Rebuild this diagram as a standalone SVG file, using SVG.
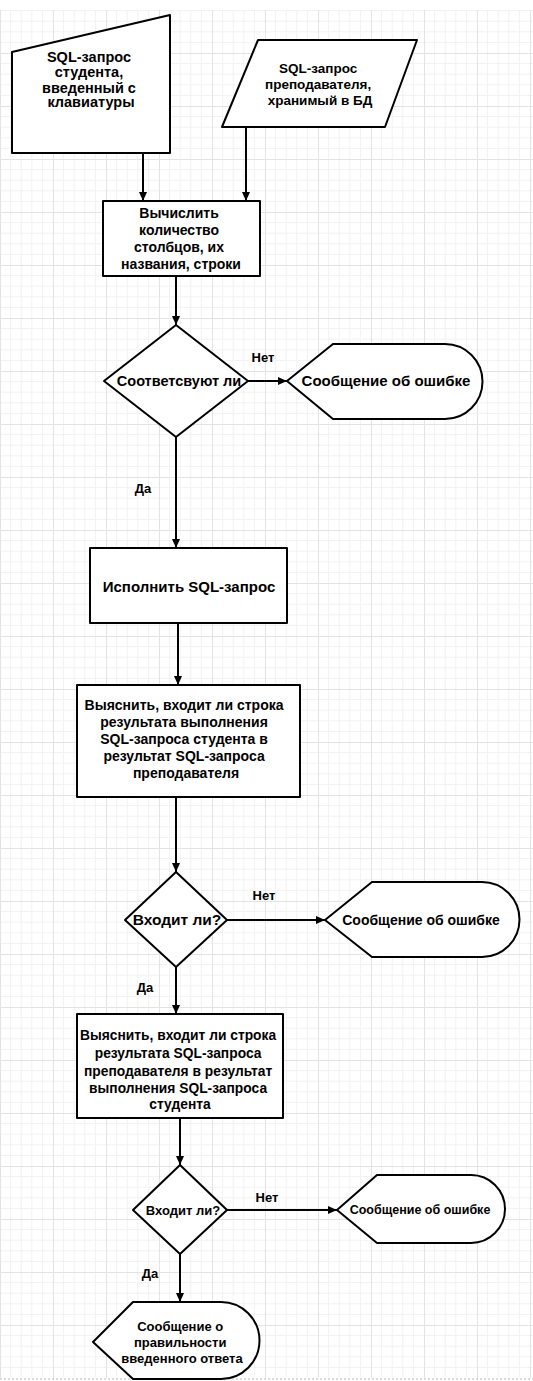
<svg xmlns="http://www.w3.org/2000/svg" width="533" height="1381" viewBox="0 0 533 1381">
  <defs>
    <style>
      .shape { fill: #ffffff; stroke: #000000; stroke-width: 2; stroke-linejoin: round; }
      .edge { fill: none; stroke: #000000; stroke-width: 2; marker-end: url(#arrow); }
      .t { font-family: "Liberation Sans", Arial, sans-serif; font-weight: bold; fill: #000000; text-anchor: middle; }
      .lbl { font-family: "Liberation Sans", Arial, sans-serif; font-weight: bold; fill: #000000; text-anchor: middle; font-size: 13px; }
    </style>
    <marker id="arrow" markerUnits="userSpaceOnUse" markerWidth="9" markerHeight="8" refX="9" refY="4" orient="auto">
      <path d="M0,0 L9,4 L0,8 Z" fill="#000000"/>
    </marker>
    <!-- background drawing grid: minor cells with a heavier line every 5 cells -->
    <pattern id="grid" width="53" height="53" patternUnits="userSpaceOnUse">
      <path d="M10.6,0 V53 M21.2,0 V53 M31.8,0 V53 M42.4,0 V53 M0,10.6 H53 M0,21.2 H53 M0,31.8 H53 M0,42.4 H53" stroke="#f2f2f2" stroke-width="1" fill="none"/>
      <path d="M0.5,0 V53 M0,0.5 H53" stroke="#e3e3e3" stroke-width="1" fill="none"/>
    </pattern>
  </defs>

  <rect width="533" height="1381" fill="#ffffff"/>
  <rect x="0" y="10" width="533" height="1368" fill="url(#grid)"/>
  <line x1="0" y1="1379" x2="533" y2="1379" stroke="#cfcfcf" stroke-width="1.5" stroke-dasharray="2 2"/>

  <!-- connectors -->
  <g id="connectors">
    <line class="edge" x1="143" y1="153" x2="143" y2="201"/>
    <line class="edge" x1="246" y1="127" x2="246" y2="201"/>
    <line class="edge" x1="176" y1="276" x2="176" y2="325"/>
    <line class="edge" x1="248" y1="381" x2="287" y2="381"/>
    <line class="edge" x1="176" y1="437" x2="176" y2="548"/>
    <line class="edge" x1="178" y1="623" x2="178" y2="685"/>
    <line class="edge" x1="176" y1="797" x2="176" y2="872"/>
    <line class="edge" x1="227" y1="920" x2="325" y2="920"/>
    <line class="edge" x1="176" y1="967" x2="176" y2="1014"/>
    <line class="edge" x1="180" y1="1118" x2="180" y2="1165"/>
    <line class="edge" x1="227" y1="1210" x2="337" y2="1210"/>
    <line class="edge" x1="180" y1="1254" x2="180" y2="1302"/>
    <text class="lbl" x="263" y="362">Нет</text>
    <text class="lbl" x="143" y="493">Да</text>
    <text class="lbl" x="264" y="900">Нет</text>
    <text class="lbl" x="145" y="992">Да</text>
    <text class="lbl" x="267" y="1202">Нет</text>
    <text class="lbl" x="150" y="1278">Да</text>
  </g>

  <!-- manual input: student's query -->
  <g id="input-student">
    <polygon class="shape" points="12,52 170,15 170,153 12,153"/>
    <text class="t" font-size="14.5">
      <tspan x="91" y="62">SQL-запрос</tspan>
      <tspan x="91" y="77">студента,</tspan>
      <tspan x="91" y="93">введенный с</tspan>
      <tspan x="91" y="107">клавиатуры</tspan>
    </text>
  </g>

  <!-- data: teacher's stored query -->
  <g id="input-teacher">
    <polygon class="shape" points="258,40 417,40 385,127 222,127"/>
    <text class="t" font-size="13.5">
      <tspan x="320" y="73">SQL-запрос</tspan>
      <tspan x="320" y="89">преподавателя,</tspan>
      <tspan x="320" y="105">хранимый в БД</tspan>
    </text>
  </g>

  <g id="calc-columns">
    <rect class="shape" x="103" y="201" width="157" height="75"/>
    <text class="t" font-size="14">
      <tspan x="181" y="218">Вычислить</tspan>
      <tspan x="181" y="235">количество</tspan>
      <tspan x="181" y="252">столбцов, их</tspan>
      <tspan x="181" y="269">названия, строки</tspan>
    </text>
  </g>

  <g id="decision-match">
    <polygon class="shape" points="176,325 248,381 176,437 104,381"/>
    <text class="t" font-size="14.5" x="179" y="386">Соответсвуют ли</text>
  </g>

  <g id="error-1">
    <path class="shape" d="M287,381 L333,344 L445,344 A37.5,37.5 0 0 1 445,419 L333,419 Z"/>
    <text class="t" font-size="15" x="386" y="386">Сообщение об ошибке</text>
  </g>

  <g id="exec-query">
    <rect class="shape" x="90" y="548" width="197" height="75"/>
    <text class="t" font-size="15" x="189" y="592">Исполнить SQL-запрос</text>
  </g>

  <g id="check-student-in-teacher">
    <rect class="shape" x="77" y="685" width="223" height="112"/>
    <text class="t" font-size="14">
      <tspan x="186" y="710">Выяснить, входит ли строка</tspan>
      <tspan x="186" y="727">результата выполнения</tspan>
      <tspan x="186" y="744">SQL-запроса студента в</tspan>
      <tspan x="186" y="761">результат SQL-запроса</tspan>
      <tspan x="186" y="778">преподавателя</tspan>
    </text>
  </g>

  <g id="decision-contains-1">
    <polygon class="shape" points="176,872 227,920 176,967 125,920"/>
    <text class="t" font-size="15.5" x="177" y="925">Входит ли?</text>
  </g>

  <g id="error-2">
    <path class="shape" d="M325,920 L372,882 L482,882 A37.5,37.5 0 0 1 482,957 L372,957 Z"/>
    <text class="t" font-size="14" x="421" y="925">Сообщение об ошибке</text>
  </g>

  <g id="check-teacher-in-student">
    <rect class="shape" x="77" y="1014" width="206" height="104"/>
    <text class="t" font-size="13.8">
      <tspan x="180" y="1040">Выяснить, входит ли строка</tspan>
      <tspan x="180" y="1058">результата SQL-запроса</tspan>
      <tspan x="180" y="1076">преподавателя в результат</tspan>
      <tspan x="180" y="1093">выполнения SQL-запроса</tspan>
      <tspan x="180" y="1109">студента</tspan>
    </text>
  </g>

  <g id="decision-contains-2">
    <polygon class="shape" points="180,1165 227,1210 180,1254 133,1210"/>
    <text class="t" font-size="13" x="183" y="1215">Входит ли?</text>
  </g>

  <g id="error-3">
    <path class="shape" d="M337,1210 L377,1175 L471,1175 A34,34 0 0 1 471,1243 L377,1243 Z"/>
    <text class="t" font-size="12.5" x="420" y="1214">Сообщение об ошибке</text>
  </g>

  <g id="success-message">
    <path class="shape" d="M93,1342 L133,1302 L221,1302 A38.5,38.5 0 0 1 221,1379 L133,1379 Z"/>
    <text class="t" font-size="13">
      <tspan x="182" y="1331">Сообщение о</tspan>
      <tspan x="182" y="1347">правильности</tspan>
      <tspan x="182" y="1363">введенного ответа</tspan>
    </text>
  </g>
</svg>
